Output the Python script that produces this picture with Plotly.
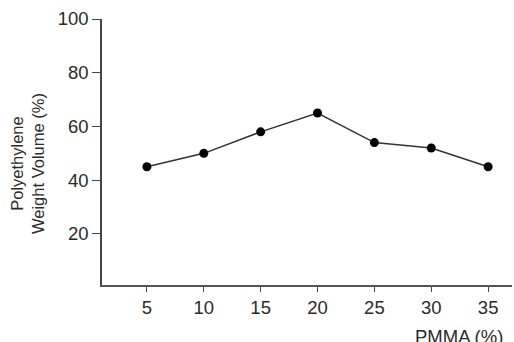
import plotly.graph_objects as go

pmma = [5, 10, 15, 20, 25, 30, 35]
weight_volume = [45, 50, 58, 65, 54, 52, 45]
x_ticks = [5, 10, 15, 20, 25, 30, 35]
y_ticks = [20, 40, 60, 80, 100]

W, H = 514, 342
L, R, T, B = 102, 2, 19, 57
FONT = "Liberation Sans, Arial, sans-serif"
TXT = "#2b2b2b"

fig = go.Figure()
fig.add_trace(go.Scatter(
    x=pmma, y=weight_volume, mode="lines+markers",
    line=dict(color="#333333", width=1.5),
    marker=dict(color="black", size=9),
    showlegend=False, hoverinfo="skip",
))

fig.update_layout(
    width=W, height=H,
    margin=dict(l=L, r=R, t=T, b=B, pad=0),
    paper_bgcolor="white", plot_bgcolor="white",
    font=dict(family=FONT, color=TXT, size=18.5),
    xaxis=dict(range=[1.05, 37.1], tickvals=x_ticks, ticks="outside", ticklen=5,
               tickwidth=1.3, tickcolor="#444", showline=True, linecolor="#555", linewidth=1.6,
               showgrid=False, zeroline=False, tickfont=dict(size=18.5, color=TXT)),
    yaxis=dict(range=[1.0, 100], tickvals=y_ticks, ticks="outside", ticklen=8,
               tickwidth=1.3, tickcolor="#444", showline=True, linecolor="#444", linewidth=1.6,
               showgrid=False, zeroline=False, tickfont=dict(size=18.5, color=TXT)),
)

pw = W - L - R
ph = H - T - B
fig.add_annotation(
    text="PMMA (%)", xref="paper", yref="paper",
    x=(505 - L) / pw, y=-(336 - (H - B)) / ph,
    xanchor="right", yanchor="middle", showarrow=False,
    font=dict(size=18.5, color=TXT, family=FONT),
)
fig.add_annotation(
    text="Polyethylene<br>Weight Volume (%)", xref="paper", yref="paper",
    x=(27 - L) / pw, y=1 - (164 - T) / ph,
    xanchor="center", yanchor="middle", textangle=-90, showarrow=False,
    font=dict(size=16.5, color=TXT, family=FONT),
)

fig.write_html("out.html")
